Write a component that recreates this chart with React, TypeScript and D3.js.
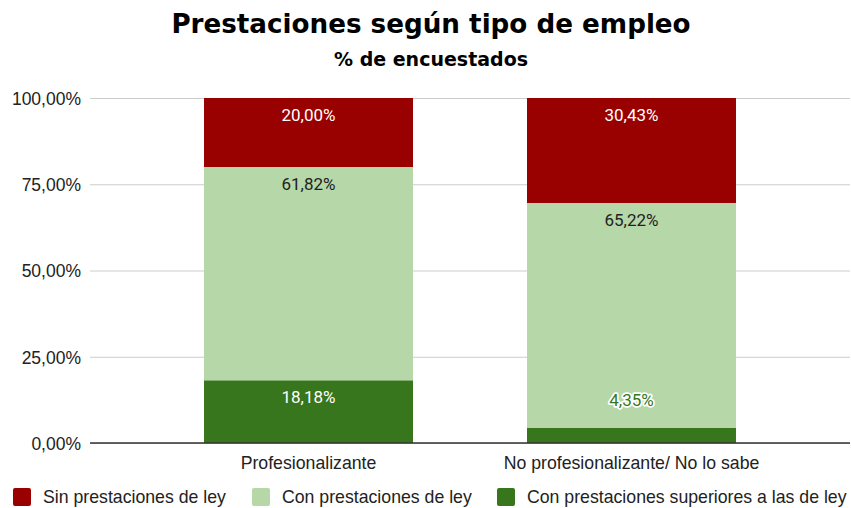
import React, { useEffect, useRef } from 'react'
import { select, scaleLinear, scaleBand, axisLeft, axisBottom } from 'd3'

// chart data
const categories = ['Profesionalizante', 'No profesionalizante/ No lo sabe']
const seriesNames = ['Sin prestaciones de ley', 'Con prestaciones de ley', 'Con prestaciones superiores a las de ley']
const sinPrestaciones = [20.0, 30.43]
const conPrestaciones = [61.82, 65.22]
const superiores = [18.18, 4.35]
const yTicks = [0, 25, 50, 75, 100]

const colors = ['#990000', '#b6d7a8', '#38761d']
const labelColors = ['#ffffff', '#222222', '#ffffff']

const fmt = (v: number) => v.toFixed(2).replace('.', ',') + '%'

function App() {
    const ref = useRef<SVGSVGElement>(null)

    const width = 851,
        height = 508
    const margin = { top: 98, right: 1, bottom: 65, left: 90 }

    useEffect(() => {
        const svg = select(ref.current)
        svg.selectAll('*').remove()

        const xScale = scaleBand<string>()
            .domain(categories)
            .range([margin.left, width - margin.right])
            .paddingInner(0.353)
            .paddingOuter(0.353)
        const yScale = scaleLinear().domain([0, 100]).range([height - margin.bottom, margin.top])

        // gridlines + y axis
        const yAxis = axisLeft(yScale)
            .tickValues(yTicks)
            .tickSize(-(width - margin.right - margin.left))
            .tickFormat((d) => fmt(+d))
        const gy = svg.append('g').attr('transform', `translate(${margin.left},0)`).call(yAxis)
        gy.select('.domain').remove()
        gy.selectAll('.tick line').attr('stroke', '#cccccc').attr('stroke-width', 1)
        gy.selectAll('.tick text')
            .attr('x', -9)
            .attr('dy', '0.36em')
            .attr('fill', '#222')
            .style('font-family', '"Liberation Sans", Arial, sans-serif')
            .style('font-size', '17.5px')

        // stacked bars (bottom to top)
        const stackOrder = [
            { values: superiores, c: 2 },
            { values: conPrestaciones, c: 1 },
            { values: sinPrestaciones, c: 0 },
        ]
        const labels: { x: number; y: number; v: number; c: number; small: boolean }[] = []
        categories.forEach((cat, i) => {
            let base = 0
            stackOrder.forEach((s) => {
                const v = s.values[i]
                const y0 = yScale(base)
                const y1 = yScale(base + v)
                svg.append('rect')
                    .attr('x', xScale(cat)!)
                    .attr('y', y1)
                    .attr('width', xScale.bandwidth())
                    .attr('height', y0 - y1)
                    .attr('fill', colors[s.c])
                const small = y0 - y1 < 25
                labels.push({
                    x: xScale(cat)! + xScale.bandwidth() / 2,
                    y: small ? y1 - 22 : y1 + 23,
                    v,
                    c: s.c,
                    small,
                })
                base += v
            })
        })

        // data labels on top of all bars
        labels.forEach((l) => {
            const t = svg.append('text')
                .attr('x', l.x)
                .attr('y', l.y)
                .attr('text-anchor', 'middle')
                .style('font-family', 'Roboto, sans-serif')
                .style('font-size', '17px')
                .text(fmt(l.v))
            if (l.small) {
                t.attr('fill', colors[l.c])
                    .attr('stroke', '#fff')
                    .attr('stroke-width', 3.5)
                    .attr('stroke-linejoin', 'round')
                    .attr('paint-order', 'stroke')
            } else {
                t.attr('fill', labelColors[l.c])
            }
        })

        // x axis
        const gx = svg.append('g')
            .attr('transform', `translate(0,${height - margin.bottom})`)
            .call(axisBottom(xScale).tickSize(0).tickSizeOuter(0))
        gx.select('.domain').attr('stroke', '#333').attr('stroke-width', 1.5)
            .attr('d', `M${margin.left},0H${width - margin.right}`)
        gx.selectAll('.tick text')
            .attr('y', 13)
            .attr('dy', '0.71em')
            .attr('fill', '#222')
            .style('font-family', '"Liberation Sans", Arial, sans-serif')
            .style('font-size', '17.7px')

        // titles
        svg.append('text')
            .attr('x', 431)
            .attr('y', 33)
            .attr('text-anchor', 'middle')
            .style('font-family', '"DejaVu Sans", sans-serif')
            .style('font-weight', 'bold')
            .style('font-size', '26.2px')
            .attr('fill', '#000')
            .text('Prestaciones según tipo de empleo')
        svg.append('text')
            .attr('x', 431)
            .attr('y', 66)
            .attr('text-anchor', 'middle')
            .style('font-family', '"DejaVu Sans", sans-serif')
            .style('font-weight', 'bold')
            .style('font-size', '19px')
            .attr('fill', '#000')
            .text('% de encuestados')

        // legend
        const legendX = [13, 252, 497]
        seriesNames.forEach((name, i) => {
            svg.append('rect')
                .attr('x', legendX[i])
                .attr('y', 488)
                .attr('width', 18)
                .attr('height', 18)
                .attr('rx', 2)
                .attr('fill', colors[i])
            svg.append('text')
                .attr('x', legendX[i] + 30)
                .attr('y', 503)
                .attr('fill', '#222')
                .style('font-family', '"Liberation Sans", Arial, sans-serif')
                .style('font-size', '17.7px')
                .text(name)
        })
    }, [])

    return (
        <div>
            <svg ref={ref} width={width} height={height} style={{ position: 'absolute', left: 0, top: 0 }} />
        </div>
    )
}

export default App
